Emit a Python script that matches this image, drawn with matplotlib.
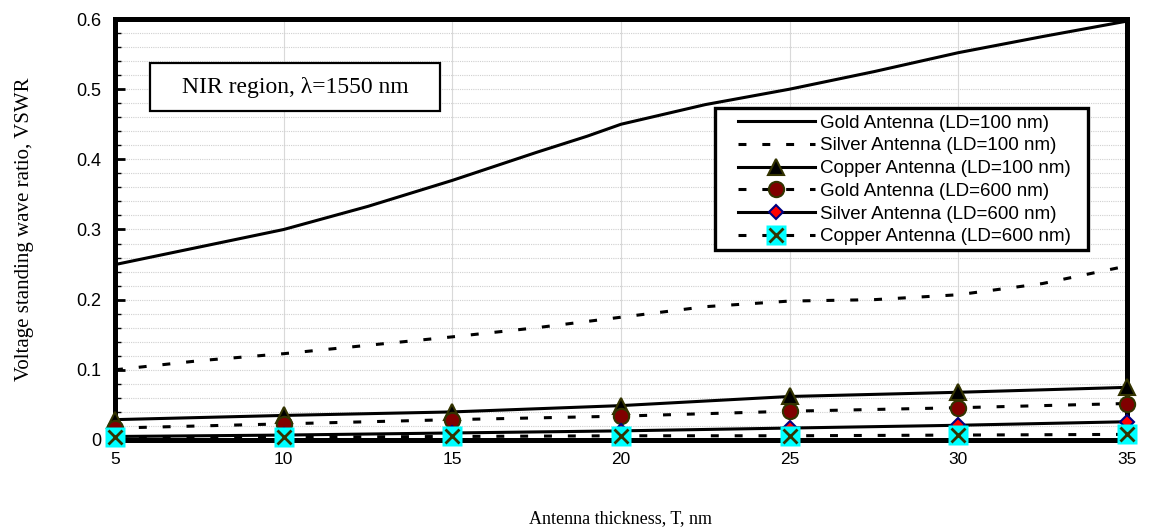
import numpy as np
import matplotlib.pyplot as plt
from matplotlib.patches import Rectangle
from matplotlib.legend_handler import HandlerTuple
from matplotlib.ticker import MultipleLocator

# thickness T (nm) where the markers sit
t_pts = [5, 10, 15, 20, 25, 30, 35]

# LD = 100 nm
gold100_t = [5, 10, 12.5, 15, 17.5, 19, 20, 22.5, 25, 27.5, 30, 32.5, 35]
gold100 = [0.25, 0.30, 0.333, 0.37, 0.41, 0.433, 0.45, 0.478, 0.50, 0.525, 0.552, 0.575, 0.597]
silver100_t = [5, 7.5, 10, 12.5, 15, 17.5, 20, 22.5, 25, 27.5, 30, 32.5, 35]
silver100 = [0.10, 0.113, 0.123, 0.135, 0.147, 0.16, 0.175, 0.19, 0.198, 0.20, 0.207, 0.223, 0.248]
copper100 = [0.029, 0.035, 0.040, 0.049, 0.062, 0.068, 0.075]

# LD = 600 nm
gold600 = [0.017, 0.023, 0.029, 0.034, 0.041, 0.046, 0.052]
silver600 = [0.005, 0.007, 0.010, 0.013, 0.017, 0.021, 0.026]
copper600 = [0.004, 0.004, 0.005, 0.006, 0.006, 0.007, 0.008]

xticks = [5, 10, 15, 20, 25, 30, 35]
yticks = [0, 0.1, 0.2, 0.3, 0.4, 0.5, 0.6]
ytick_labels = ['0', '0.1', '0.2', '0.3', '0.4', '0.5', '0.6']

sans = 'Liberation Sans'
serif = 'Liberation Serif'
olive = '#333300'
lw = 2.2
dash = (0, (2.6, 5.2))

fig = plt.figure(figsize=(11.49, 5.31), dpi=100)
ax = fig.add_axes([0.1001, 0.1714, 0.8807, 0.7928])

ax.plot(gold100_t, gold100, color='black', lw=lw, zorder=4, clip_on=False,
        label='Gold Antenna (LD=100 nm)')
ax.plot(silver100_t, silver100, color='black', lw=lw, ls=dash, zorder=4, clip_on=False,
        label='Silver Antenna (LD=100 nm)')
ax.plot(t_pts, copper100, color='black', lw=lw, marker='^', ms=12, mfc='black', mec=olive,
        mew=1.5, zorder=5, clip_on=False, label='Copper Antenna (LD=100 nm)')
ax.plot(t_pts, gold600, color='black', lw=lw, ls=dash, marker='o', ms=11, mfc='#800000', mec=olive,
        mew=1.5, zorder=5, clip_on=False, label='Gold Antenna (LD=600 nm)')
ax.plot(t_pts, silver600, color='black', lw=lw, marker='D', ms=7, mfc='red', mec='#000080',
        mew=1.5, zorder=5, clip_on=False, label='Silver Antenna (LD=600 nm)')
cu_sq, = ax.plot(t_pts, copper600, color='black', lw=lw, ls=dash, marker='s', ms=15, mfc='#00ffff',
                 mec='none', zorder=6, clip_on=False)
cu_x, = ax.plot(t_pts, copper600, ls='none', marker='x', ms=10, mec=olive, mew=2,
                zorder=7, clip_on=False)

ax.set_xlim(5, 35)
ax.set_ylim(0, 0.6)
ax.set_xticks(xticks)
ax.set_yticks(yticks)
ax.set_yticklabels(ytick_labels)
ax.yaxis.set_minor_locator(MultipleLocator(0.02))
ax.tick_params(axis='x', length=0, pad=9, labelsize=12.5)
ax.tick_params(axis='y', which='major', direction='in', length=7, width=2, pad=10, labelsize=13)
ax.tick_params(axis='y', which='minor', direction='in', length=4, width=1)
for lab in ax.get_xticklabels() + ax.get_yticklabels():
    lab.set_fontfamily(sans)

ax.grid(axis='y', which='both', color='#d0d0d0', lw=0.8, ls=(0, (1, 1)), zorder=0)
ax.grid(axis='x', which='major', color='#d9d9d9', lw=0.8, zorder=0)
ax.set_axisbelow(True)
for s in ax.spines.values():
    s.set_linewidth(3.6)

ax.set_xlabel('Antenna thickness, T, nm', family=serif, fontsize=13, labelpad=31)
ax.set_ylabel('Voltage standing wave ratio, VSWR', family=serif, fontsize=15, labelpad=30)

# annotation box
ax.add_patch(Rectangle((0.0346, 0.781), 0.2866, 0.114, transform=ax.transAxes,
                       fc='white', ec='black', lw=1.6, zorder=8))
ax.text(0.178, 0.838, 'NIR region, λ=1550 nm', transform=ax.transAxes, ha='center', va='center',
        family=serif, fontsize=17, zorder=9)

# legend frame drawn separately so the padding can differ per side
ax.add_patch(Rectangle((0.593, 0.451), 0.3685, 0.3376, transform=ax.transAxes,
                       fc='white', ec='black', lw=2.4, zorder=9))

handles, labels = ax.get_legend_handles_labels()
handles.append((cu_sq, cu_x))
labels.append('Copper Antenna (LD=600 nm)')
leg = ax.legend(handles, labels, loc='upper left', bbox_to_anchor=(0.6156, 0.773),
                borderaxespad=0, frameon=False,
                prop={'family': sans, 'size': 13.5}, handlelength=4.1, handletextpad=0.3,
                labelspacing=0.3, borderpad=0, numpoints=1,
                handler_map={tuple: HandlerTuple(ndivide=1)})
leg.set_zorder(10)

fig.savefig('out.png', dpi=100)
